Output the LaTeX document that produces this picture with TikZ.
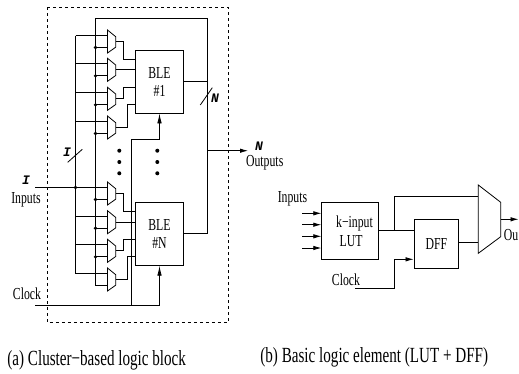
\documentclass[tikz,border=0pt]{standalone}
\usepackage{fontspec}
\setmainfont{Liberation Serif}[FakeStretch=0.7]
\newfontfamily\busfont{Liberation Mono}[BoldItalicFont=* Bold Italic]
\usepackage{tikz}
\usetikzlibrary{arrows.meta, positioning, calc}
\tikzset{
  blockbox/.style={draw, align=center, font=\fontsize{16.8}{18}\selectfont, inner sep=0pt},
  lbl/.style={inner sep=0pt, font=\fontsize{16.8}{18}\selectfont},
  caplbl/.style={inner sep=0pt, anchor=west, font=\fontsize{21.6}{22}\selectfont},
  buslbl/.style={inner sep=0pt, font=\busfont\bfseries\itshape\fontsize{13}{14}\selectfont},
  sig/.style={-{Latex[length=8pt,width=4.5pt]}},
  clk/.style={-{Latex[length=10pt,width=4.5pt]}}
}

\begin{document}
\begin{tikzpicture}[x=1pt,y=-1pt,line width=0.8pt]
        \useasboundingbox (0,0) rectangle (519,373);
        % (a) cluster
        \draw[dashed,dash pattern=on 3pt off 3pt] (47.5,7) rectangle (228,322.7);
        \node[blockbox,minimum width=48pt,minimum height=63pt] (bleA) at (159.5,81.5) {BLE\\\#1};
        \node[blockbox,minimum width=48pt,minimum height=63pt] (bleB) at (159.5,233.8) {BLE\\\#N};
        \coordinate (busI) at (75.5,0);
        \coordinate (busF) at (95.5,0);
        \coordinate (busC) at (131.3,0);
        \coordinate (busO) at (207.5,0);
        % input muxes
        \foreach \n/\y in {1/30,2/58.3,3/87.3,4/116,5/182,6/210.7,7/239.3,8/268} {
          \draw (107.5,\y) -- (115.7,\y+6.7) -- (115.7,\y+17.2) -- (107.5,\y+23) -- cycle;
          \coordinate (mt\n) at (107.5,\y+5.5);
          \coordinate (mb\n) at (107.5,\y+17.5);
          \coordinate (mo\n) at (115.7,\y+11.5);
          \draw (busI |- mt\n) -- (mt\n);
          \draw (busF |- mb\n) -- (mb\n);
        }
        \foreach \n in {1,2,3,4,5,6,7} \fill (busF |- mb\n) circle (1.8);
        \draw (busI |- mt1) -- (busI |- mt8);
        \draw (busO |- bleB.east) -- (bleB.east);
        \draw (bleA.east) -- (busO |- bleA.east);
        \draw (mb8) -- (busF |- mb8) -- (95.5,18.7) -- (207.5,18.7) -- (busO |- bleB.east);
        % mux outputs
        \draw (mo1) -- ++(7.8,0) |- ([yshift=22.5pt]bleA.west);
        \draw (mo2) -- (mo2 -| bleA.west);
        \draw (mo3) -- ++(7.8,0) |- ([yshift=-5.5pt]bleA.west);
        \draw (mo4) -- ++(11.8,0) |- ([yshift=-23pt]bleA.west);
        \draw (mo5) -- ++(7.8,0) |- ([yshift=22.5pt]bleB.west);
        \draw (mo6) -- (mo6 -| bleB.west);
        \draw (mo7) -- ++(7.8,0) |- ([yshift=-5.5pt]bleB.west);
        \draw (mo8) -- ++(11.8,0) |- ([yshift=-23pt]bleB.west);
        % clock
        \coordinate (clkA) at (35,305.3);
        \draw[clk] (clkA) -| (bleB.south);
        \draw[clk] (busC |- clkA) -- (131.3,139) -| (bleA.south);
        \node[lbl] (clkAtxt) at (27,294) {Clock};
        % inputs and outputs
        \coordinate (inA) at (35,187.5);
        \draw (inA) -- (mt5);
        \fill (busI |- inA) circle (1.8);
        \node[buslbl] (busIa) at (26,180) {I};
        \node[lbl] (inAtxt) at (26,200) {Inputs};
        \coordinate (outA) at (248,150.7);
        \draw[sig] (busO |- outA) -- (outA);
        \node[buslbl] (busNb) at (259,146) {N};
        \node[lbl] (outAtxt) at (264.7,163) {Outputs};
        \draw (67.7,162.3) -- (82.3,149.3);
        \node[buslbl] (busIb) at (67,152) {I};
        \draw (200.3,105) -- (212.3,87.7);
        \node[buslbl] (busNa) at (215,98) {N};
        % dots between the two groups
        \foreach \y in {150.7,162,173.3} {
          \fill (119.3,\y) circle (2);
          \fill (157.3,\y) circle (2);
        }
        % (b) basic logic element
        \node[blockbox,minimum width=56.6pt,minimum height=57.3pt] (lut) at (350,230.6) {};
        \node[lbl] (luttxt) at (354.5,223) {k−input};
        \node[lbl] (luttxtb) at (351,241) {LUT};
        \node[blockbox,minimum width=44.7pt,minimum height=49pt] (dff) at (436.3,243.8) {DFF};
        \draw (478.3,185) -- (500.7,202.3) -- (500.7,236.7) -- (478.3,253.3) -- cycle;
        \coordinate (muxT) at (478.3,196);
        \coordinate (muxB) at (478.3,242);
        \coordinate (muxO) at (500.7,219.3);
        \coordinate (outB) at (518.5,219.3);
        \draw[sig] (muxO) -- (outB);
        \node[lbl] (outBtxt) at (511,235) {Ou};
        \foreach \y in {213.3,224.7,236.3,248} {
          \coordinate (lutin) at (lut.west |- 0,\y);
          \draw[sig] (302,\y) -- (lutin);
        }
        \node[lbl] (inBtxt) at (292.5,199) {Inputs};
        \coordinate (lutout) at (lut.east |- 0,230.7);
        \draw (lutout) -- (lutout -| dff.west);
        \draw (394,230.7) |- (muxT);
        \draw (dff.east |- muxB) -- (muxB);
        \coordinate (clkB) at (355,288);
        \draw[sig] (clkB) -| (394,259.3) -- (dff.west |- 0,259.3);
        \node[lbl] (clkBtxt) at (346,280) {Clock};
        % captions
        \node[caplbl] (capA) at (7,360) {(a) Cluster−based logic block};
        \node[caplbl] (capB) at (260,357) {(b) Basic logic element (LUT + DFF)};
      \end{tikzpicture}
\end{document}
